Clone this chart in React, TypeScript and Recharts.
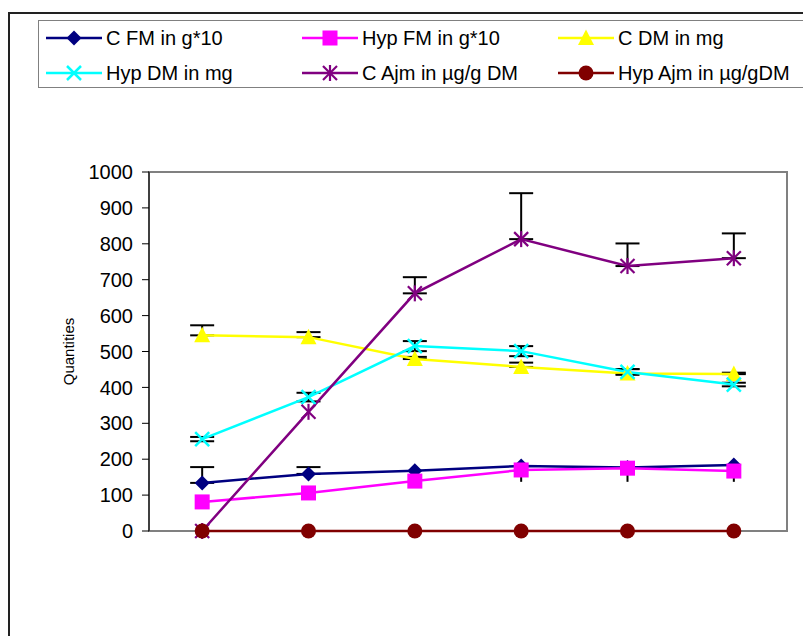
import React from "react";
import { LineChart, Line, XAxis, YAxis, ErrorBar, ReferenceArea } from "recharts";

// days on the x axis, and the category boundaries where Excel puts its tick marks
const days = [5, 6, 7, 8, 9, 10];
const dayBounds = [4.5, 5.5, 6.5, 7.5, 8.5, 9.5, 10.5];
const yTicks = [0, 100, 200, 300, 400, 500, 600, 700, 800, 900, 1000];

// series values
const cFm = [134, 159, 168, 181, 177, 184];
const cFmErrUp = [44, 19, 0, 0, 0, 0];
const cFmErrDown = [0, 0, 0, 44, 40, 47];
const hypFm = [81, 106, 139, 170, 175, 167];
const cDm = [545, 540, 479, 457, 439, 437];
const cDmErr = [28, 14, 6, 12, 12, 4];
const hypDm = [256, 373, 515, 501, 443, 408];
const hypDmErr = [6, 12, 14, 14, 8, 5];
const cAjm = [0, 332, 662, 813, 738, 760];
const cAjmErr = [0, 0, 45, 128, 63, 69];
const hypAjm = [0, 0, 0, 0, 0, 0];

const up = (e: number) => (e ? [0, e] : null);
const down = (e: number) => (e ? [e, 0] : null);
const both = (e: number) => (e ? e : null);

const rows = days.map((day, i) => ({
  day,
  cFm: cFm[i],
  cFmUp: up(cFmErrUp[i]),
  cFmDown: down(cFmErrDown[i]),
  hypFm: hypFm[i],
  cDm: cDm[i],
  cDmUp: up(cDmErr[i]),
  hypDm: hypDm[i],
  hypDmErr: both(hypDmErr[i]),
  cAjm: cAjm[i],
  cAjmUp: up(cAjmErr[i]),
  hypAjm: hypAjm[i],
}));

type Shape = "diamond" | "square" | "triangle" | "x" | "star" | "circle";

const series: { key: string; name: string; color: string; shape: Shape }[] = [
  { key: "cFm", name: "C FM in g*10", color: "#000080", shape: "diamond" },
  { key: "hypFm", name: "Hyp FM in g*10", color: "#FF00FF", shape: "square" },
  { key: "cDm", name: "C DM in mg", color: "#FFFF00", shape: "triangle" },
  { key: "hypDm", name: "Hyp DM in mg", color: "#00FFFF", shape: "x" },
  { key: "cAjm", name: "C Ajm in µg/g DM", color: "#800080", shape: "star" },
  { key: "hypAjm", name: "Hyp Ajm in µg/gDM", color: "#800000", shape: "circle" },
];

const FONT = '"Liberation Sans", Arial, sans-serif';

const Marker = ({ shape, cx, cy, color }: { shape: Shape; cx: number; cy: number; color: string }) => {
  switch (shape) {
    case "diamond":
      return <polygon points={`${cx},${cy - 7.5} ${cx + 7.5},${cy} ${cx},${cy + 7.5} ${cx - 7.5},${cy}`} fill={color} />;
    case "square":
      return <rect x={cx - 7.5} y={cy - 7.5} width={15} height={15} fill={color} />;
    case "triangle":
      return <polygon points={`${cx},${cy - 8.5} ${cx + 8},${cy + 7} ${cx - 8},${cy + 7}`} fill={color} />;
    case "x":
      return (
        <g stroke={color} strokeWidth={2.5}>
          <line x1={cx - 7} y1={cy - 7} x2={cx + 7} y2={cy + 7} />
          <line x1={cx - 7} y1={cy + 7} x2={cx + 7} y2={cy - 7} />
        </g>
      );
    case "star":
      return (
        <g stroke={color} strokeWidth={2.2}>
          <line x1={cx - 7} y1={cy - 7} x2={cx + 7} y2={cy + 7} />
          <line x1={cx - 7} y1={cy + 7} x2={cx + 7} y2={cy - 7} />
          <line x1={cx} y1={cy - 8} x2={cx} y2={cy + 8} />
        </g>
      );
    default:
      return <circle cx={cx} cy={cy} r={7.5} fill={color} />;
  }
};

const Legend = () => (
  <div
    style={{
      position: "absolute",
      left: 38,
      top: 20,
      width: 790,
      height: 68,
      border: "1px solid #808080",
      boxSizing: "border-box",
    }}
  >
    {series.map((s, i) => {
      const col = i % 3;
      const row = Math.floor(i / 3);
      return (
        <div
          key={s.key}
          style={{
            position: "absolute",
            left: 7 + col * 256,
            top: 5 + row * 35,
            height: 24,
            display: "flex",
            alignItems: "center",
            whiteSpace: "nowrap",
          }}
        >
          <svg width={56} height={24}>
            <line x1={0} y1={12} x2={56} y2={12} stroke={s.color} strokeWidth={2.5} />
            <Marker shape={s.shape} cx={28} cy={12} color={s.color} />
          </svg>
          <span style={{ marginLeft: 4, fontSize: 20, fontFamily: FONT, color: "#000" }}>{s.name}</span>
        </div>
      );
    })}
  </div>
);

const App = () => {
  return (
    <div
      style={{
        position: "absolute",
        left: 0,
        top: 0,
        width: 803,
        height: 636,
        overflow: "hidden",
        background: "#fff",
        fontFamily: FONT,
      }}
    >
      {/* outer chart-area frame, runs off the right and bottom edges */}
      <div
        style={{
          position: "absolute",
          left: 8,
          top: 12,
          width: 820,
          height: 700,
          border: "2px solid #222",
          boxSizing: "border-box",
        }}
      />
      <Legend />
      <div style={{ position: "absolute", left: 0, top: 0 }}>
        <LineChart
          width={803}
          height={636}
          data={rows}
          margin={{ top: 172, right: 16, bottom: 105, left: 40 }}
          style={{ fontFamily: FONT }}
        >
          <ReferenceArea
            xAxisId="days"
            x1={4.5}
            x2={10.5}
            y1={0}
            y2={1000}
            fill="none"
            stroke="#808080"
            strokeWidth={2}
          />
          <XAxis
            xAxisId="days"
            dataKey="day"
            type="number"
            domain={[4.5, 10.5]}
            ticks={days}
            interval={0}
            height={0}
            axisLine={false}
            tickLine={false}
            tickSize={0}
            tickMargin={25}
            tick={{ fill: "#000", fontSize: 20 }}
            label={{ value: "Times in days", position: "bottom", offset: 60, fill: "#000", fontSize: 20 }}
          />
          <XAxis
            xAxisId="bounds"
            dataKey="day"
            type="number"
            domain={[4.5, 10.5]}
            ticks={dayBounds}
            interval={0}
            height={0}
            axisLine={{ stroke: "#000" }}
            tickLine={{ stroke: "#000" }}
            tickSize={7}
            tickFormatter={() => ""}
          />
          <YAxis
            type="number"
            domain={[0, 1000]}
            ticks={yTicks}
            interval={0}
            width={109}
            axisLine={{ stroke: "#000" }}
            tickLine={{ stroke: "#000" }}
            tickSize={7}
            tickMargin={9}
            tick={{ fill: "#000", fontSize: 20 }}
            label={{
              content: (p: any) => {
                const vb = p.viewBox || { x: 40, y: 172, height: 359 };
                const x = vb.x + 28;
                const y = vb.y + vb.height / 2;
                return (
                  <text
                    x={x}
                    y={y}
                    transform={`rotate(-90 ${x} ${y})`}
                    textAnchor="middle"
                    dominantBaseline="central"
                    fontSize={15}
                    fill="#000"
                  >
                    Quantities
                  </text>
                );
              },
            }}
          />
          {series.map((s) => (
            <Line
              key={s.key}
              xAxisId="days"
              dataKey={s.key}
              name={s.name}
              stroke={s.color}
              strokeWidth={2.5}
              isAnimationActive={false}
              activeDot={false}
              dot={(p: any) => (
                <Marker key={`${s.key}-${p.index}`} shape={s.shape} cx={p.cx} cy={p.cy} color={s.color} />
              )}
            >
              {s.key === "cFm" && <ErrorBar dataKey="cFmUp" direction="y" width={12} stroke="#000" strokeWidth={2} />}
              {s.key === "cFm" && <ErrorBar dataKey="cFmDown" direction="y" width={0} stroke="#000" strokeWidth={2} />}
              {s.key === "cDm" && <ErrorBar dataKey="cDmUp" direction="y" width={12} stroke="#000" strokeWidth={2} />}
              {s.key === "hypDm" && <ErrorBar dataKey="hypDmErr" direction="y" width={12} stroke="#000" strokeWidth={2} />}
              {s.key === "cAjm" && <ErrorBar dataKey="cAjmUp" direction="y" width={12} stroke="#000" strokeWidth={2} />}
            </Line>
          ))}
        </LineChart>
      </div>
    </div>
  );
};

export default App;
